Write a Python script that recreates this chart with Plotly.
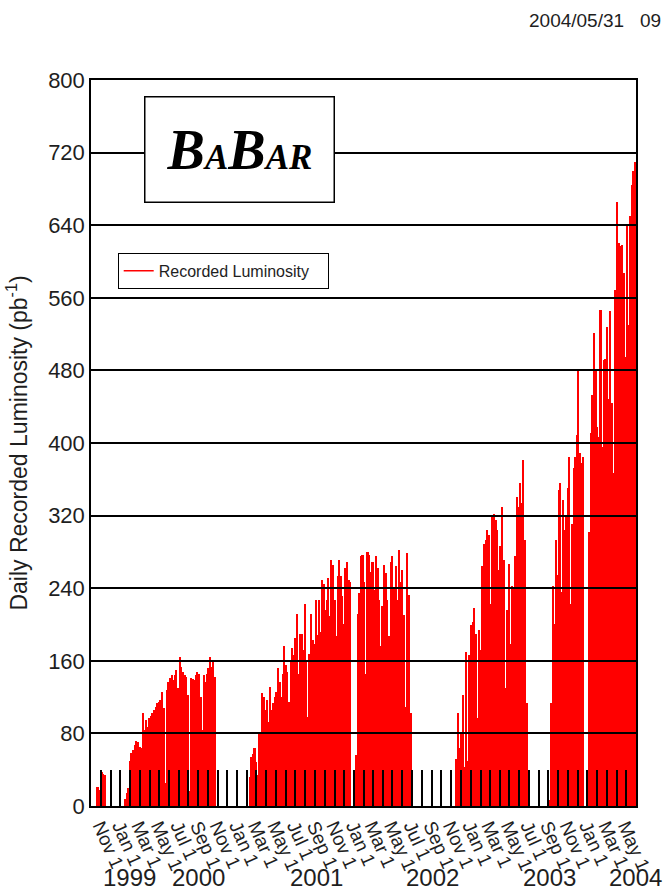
import pandas as pd
import plotly.graph_objects as go

# Daily recorded luminosity (pb^-1), sampled evenly across each running period
run_1999_span = ("1999-10-17", "1999-11-16")
run_1999 = [21, 21, 18, 38, 35, 34]

run_2000_span = ("2000-01-14", "2000-10-26")
run_2000 = [8, 14, 20, 50, 58, 62, 67, 72, 70, 65, 64, 102, 84, 95, 87, 97, 99, 102,
            106, 109, 113, 115, 117, 126, 108, 25, 128, 137, 141, 144, 139, 144, 150,
            130, 164, 153, 148, 144, 142, 122, 17, 141, 140, 139, 144, 148, 146, 120,
            84, 144, 137, 146, 152, 164, 153, 159, 142]

run_2001_span = ("2001-02-07", "2001-12-23")
run_2001 = [32, 54, 57, 64, 49, 34, 80, 82, 124, 120, 106, 117, 93, 131, 106, 113, 120,
            126, 152, 137, 120, 145, 176, 155, 148, 115, 161, 174, 166, 185, 212, 146,
            190, 190, 172, 223, 160, 98, 167, 212, 183, 179, 227, 188, 227, 192, 249,
            245, 216, 227, 251, 209, 271, 266, 227, 187, 253, 271, 253, 231, 201, 262,
            269, 249, 247]

run_2002_span = ("2002-01-05", "2002-06-30")
run_2002 = [56, 212, 235, 275, 277, 247, 146, 280, 277, 258, 269, 238, 275, 262, 227,
            176, 220, 266, 257, 227, 187, 269, 275, 240, 264, 227, 282, 247, 260, 211,
            109, 279, 232, 102]

run_2003_span = ("2002-11-15", "2003-06-28")
run_2003 = [52, 102, 64, 80, 122, 43, 170, 50, 166, 199, 203, 218, 190, 97, 194, 172,
            264, 289, 293, 304, 299, 223, 319, 322, 315, 304, 260, 286, 330, 271, 130,
            216, 267, 179, 242, 240, 275, 341, 330, 356, 334, 381, 293, 113]

run_2003b_span = ("2003-09-03", "2003-12-21")
run_2003b = [7, 113, 242, 201, 293, 255, 348, 356, 236, 337, 304, 319, 350, 385, 223,
             311, 372, 385, 409, 479, 389, 378, 385]

run_2004_span = ("2004-01-04", "2004-06-01")
run_2004 = [302, 411, 453, 521, 479, 418, 407, 547, 396, 491, 493, 528, 449, 545, 444,
            367, 569, 666, 620, 617, 618, 587, 495, 639, 530, 650, 684, 700, 710]

runs = [
    (run_1999_span, run_1999),
    (run_2000_span, run_2000),
    (run_2001_span, run_2001),
    (run_2002_span, run_2002),
    (run_2003_span, run_2003),
    (run_2003b_span, run_2003b),
    (run_2004_span, run_2004),
]

y_ticks = [0, 80, 160, 240, 320, 400, 480, 560, 640, 720, 800]
years = ["1999", "2000", "2001", "2002", "2003", "2004"]
year_positions = ["2000-01-30", "2000-09-01", "2001-09-04", "2002-09-04",
                  "2003-09-04", "2004-05-29"]

RED = "#ff0000"
INK = "#1e1e1e"
SANS = "Liberation Sans, Arial, sans-serif"

xs, ys, ws = [], [], []
for (start, end), vals in runs:
    edges = pd.date_range(start, end, periods=len(vals) + 1)
    step = edges[1] - edges[0]
    for i, v in enumerate(vals):
        xs.append(edges[i] + step / 2)
        ys.append(v)
        ws.append(step.total_seconds() * 1000)

fig = go.Figure()
fig.add_trace(go.Bar(x=xs, y=ys, width=ws, marker=dict(color=RED, line=dict(width=0)),
                     showlegend=False, hoverinfo="skip"))
fig.add_trace(go.Scatter(x=[None], y=[None], mode="lines", name="Recorded Luminosity   ",
                         line=dict(color=RED, width=1.5)))

fig.update_layout(
    width=666, height=892,
    margin=dict(l=91, r=28, t=80, b=86),
    paper_bgcolor="white", plot_bgcolor="white",
    bargap=0,
    showlegend=True,
    legend=dict(x=0.049, y=0.762, xanchor="left", yanchor="top",
                bgcolor="white", bordercolor="black", borderwidth=1,
                font=dict(family=SANS, size=16, color=INK)),
)

fig.update_xaxes(
    type="date", range=["1999-10-01", "2004-06-01"],
    tick0="1999-11-01", dtick="M2", tickformat="%b %-d",
    ticks="inside", ticklen=36, tickwidth=1.5, tickcolor="black",
    minor=dict(dtick="M1", tick0="1999-10-01", ticks="inside", ticklen=36,
               tickwidth=1.5, tickcolor="black", showgrid=False),
    tickangle=66, tickfont=dict(family=SANS, size=19, color=INK),
    showgrid=False, showline=True, linecolor="black", linewidth=1.5, mirror=True,
    layer="above traces",
)

fig.update_yaxes(
    range=[0, 800], tickvals=y_ticks,
    ticks="inside", ticklen=547, tickwidth=1.5, tickcolor="black",
    showgrid=False, zeroline=False,
    showline=True, linecolor="black", linewidth=1.5, mirror=True,
    tickfont=dict(family=SANS, size=22, color=INK),
    title=dict(text="Daily Recorded Luminosity (pb<sup>-1</sup>)",
               font=dict(family=SANS, size=23, color=INK), standoff=14),
    layer="above traces",
)

# Year labels under the month ticks
for yr, pos in zip(years, year_positions):
    fig.add_annotation(x=pos, xref="x", y=-0.098, yref="paper", text=yr,
                       showarrow=False, xanchor="center", yanchor="middle",
                       font=dict(family=SANS, size=24, color=INK))

# Experiment logo box
fig.add_annotation(
    x=0.2733, y=0.9036, xref="paper", yref="paper", showarrow=False,
    text=("<b><i>B<span style='font-size:35px'>A</span>B"
          "<span style='font-size:35px'>A</span><span style='font-size:35px'>R</span></i></b>"),
    font=dict(family="Liberation Serif, Times New Roman, serif", size=56, color="black"),
    width=186, height=102, bgcolor="white", bordercolor="black", borderwidth=1.5,
    borderpad=1, xanchor="center", yanchor="middle",
)

# Timestamp in the top-right corner
fig.add_annotation(
    x=(665 - 91) / 547, y=(806 - 20) / 726, xref="paper", yref="paper",
    showarrow=False, text="2004/05/31\u00a0\u00a0\u00a009",
    font=dict(family=SANS, size=19, color=INK),
    xanchor="right", yanchor="middle",
)

fig.write_html("out.html")
